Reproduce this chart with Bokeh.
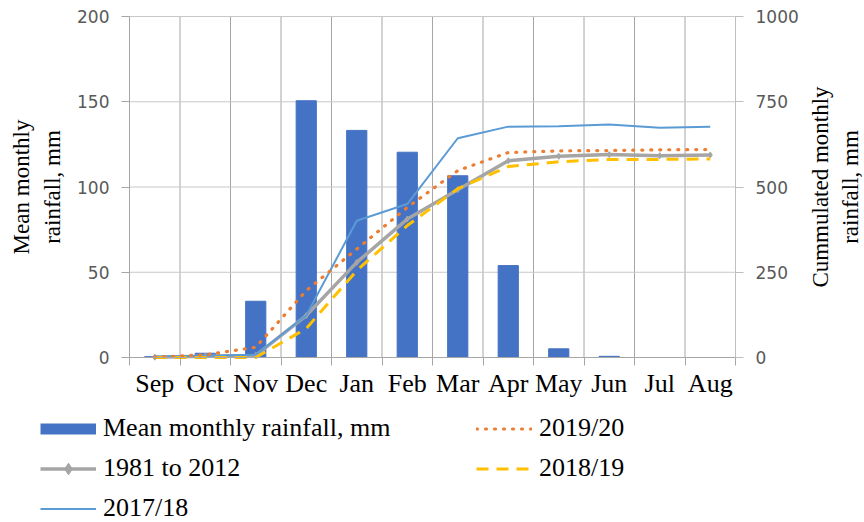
from math import pi
from bokeh.plotting import figure
from bokeh.models import (Range1d, LinearAxis, FixedTicker, Legend, LegendItem,
                          Label)
from bokeh.embed import file_html
from bokeh.resources import INLINE

months = ["Sep", "Oct", "Nov", "Dec", "Jan", "Feb", "Mar", "Apr", "May", "Jun", "Jul", "Aug"]
mean_rain = [0.5, 2.5, 33, 150.6, 133.2, 120.4, 106.6, 53.9, 5.1, 0.7, 0, 0]
cum_1981_2012 = [1, 4, 6, 123, 279, 406, 492, 577, 590, 595, 592, 594]
cum_2019_20 = [1, 8, 30, 196, 318, 440, 548, 601, 606, 607, 609, 610]
cum_2018_19 = [0, 0, 0, 85, 255, 387, 495, 560, 574, 581, 581, 582]
cum_2017_18 = [3, 5, 8, 123, 401, 450, 643, 677, 678, 683, 674, 677]
left_ticks = [0, 50, 100, 150, 200]
right_ticks = [0, 250, 500, 750, 1000]

# page geometry (pixels) of the plotting area inside the 864x522 canvas
W, H = 864, 522
AREA_L, AREA_R, AREA_T, AREA_B = 129, 735, 16, 357

n = len(months)
x_idx = list(range(n))
bounds = [i - 0.5 for i in range(n + 1)]
ymax_l, ymax_r = left_ticks[-1], right_ticks[-1]

ux = (AREA_R - AREA_L) / n
uy = (AREA_B - AREA_T) / ymax_l
x_start = -0.5 - AREA_L / ux
x_end = n - 0.5 + (W - AREA_R) / ux
y_start = -(H - AREA_B) / uy
y_end = ymax_l + AREA_T / uy
k = ymax_r / ymax_l

p = figure(width=W, height=H, output_backend="svg", toolbar_location=None,
           x_range=Range1d(x_start, x_end), y_range=Range1d(y_start, y_end),
           x_axis_type=None, y_axis_type=None, min_border=0)
p.extra_y_ranges = {"cum": Range1d(y_start * k, y_end * k)}
p.outline_line_color = None
p.background_fill_color = "white"
p.border_fill_color = "white"

SERIF = "Liberation Serif"
SANS = "DejaVu Sans"

# grid lines
p.segment(x0=bounds, x1=bounds, y0=[0] * len(bounds), y1=[ymax_l] * len(bounds),
          line_color="#a6a6a6", line_width=1, level="underlay")
p.segment(x0=[-0.5] * len(left_ticks), x1=[n - 0.5] * len(left_ticks),
          y0=left_ticks, y1=left_ticks, line_color="#c8c8c8", line_width=1,
          level="underlay")

# x axis
xa = LinearAxis(fixed_location=0, bounds=(-0.5, n - 0.5),
                ticker=FixedTicker(ticks=x_idx, minor_ticks=bounds))
xa.major_label_overrides = {i: m for i, m in enumerate(months)}
xa.major_tick_in = 0
xa.major_tick_out = 0
xa.minor_tick_in = 0
xa.minor_tick_out = 8
xa.minor_tick_line_color = "#a6a6a6"
xa.axis_line_color = "#a6a6a6"
xa.major_label_text_font = SERIF
xa.major_label_text_font_size = "26px"
xa.major_label_text_color = "black"
xa.major_label_standoff = 3
p.add_layout(xa, "below")

# left axis
ya = LinearAxis(fixed_location=-0.5, bounds=(0, ymax_l),
                ticker=FixedTicker(ticks=left_ticks))
ya.major_tick_in = 0
ya.major_tick_out = 8
ya.major_tick_line_color = "#a6a6a6"
ya.axis_line_color = "#a6a6a6"
ya.minor_tick_line_color = None
ya.major_label_text_font = SANS
ya.major_label_text_font_size = "17px"
ya.major_label_text_color = "#595959"
ya.major_label_standoff = 12
ya.axis_label = "Mean monthly\nrainfall, mm"
ya.axis_label_text_font = SERIF
ya.axis_label_text_font_size = "23px"
ya.axis_label_text_font_style = "normal"
ya.axis_label_text_color = "black"
ya.axis_label_text_line_height = 1.25
ya.axis_label_standoff = 9
p.add_layout(ya, "left")

# right axis
ra = LinearAxis(y_range_name="cum", fixed_location=n - 0.5, bounds=(0, ymax_r),
                ticker=FixedTicker(ticks=right_ticks))
ra.major_tick_in = 0
ra.major_tick_out = 8
ra.major_tick_line_color = "#bfbfbf"
ra.axis_line_color = "#bfbfbf"
ra.minor_tick_line_color = None
ra.major_label_text_font = SANS
ra.major_label_text_font_size = "17px"
ra.major_label_text_color = "#595959"
ra.major_label_standoff = 12
p.add_layout(ra, "right")

right_title = Label(x=n - 0.5 + 100 / ux, y=ymax_l / 2,
                    text="Cummulated monthly\nrainfall, mm", angle=pi / 2,
                    text_align="center", text_baseline="middle",
                    text_font=SERIF, text_font_size="23px", text_color="black",
                    text_line_height=1.22)
p.add_layout(right_title)

# bars
bars = p.vbar(x=x_idx, top=mean_rain, width=0.4, fill_color="#4472C4",
              line_color="#4472C4")
# hidden twin of the bars, used only for a flat legend swatch
bar_swatch = p.line(x_idx, mean_rain, line_width=11, line_color="#4472C4",
                    visible=False)

# cumulative lines
l_1981 = p.line(x_idx, cum_1981_2012, y_range_name="cum", line_color="#A5A5A5",
                line_width=3.5)
m_1981 = p.scatter(x_idx, cum_1981_2012, y_range_name="cum", marker="diamond",
                   size=6, color="#A5A5A5")
l_1718 = p.line(x_idx, cum_2017_18, y_range_name="cum", line_color="#5B9BD5",
                line_width=2)
l_1819 = p.line(x_idx, cum_2018_19, y_range_name="cum", line_color="#FFC000",
                line_width=3, line_dash="12 8")
l_1920 = p.line(x_idx, cum_2019_20, y_range_name="cum", line_color="#ED7D31",
                line_width=3.2, line_dash="1 8", line_cap="round")

legend = Legend(items=[
    LegendItem(label="Mean monthly rainfall, mm", renderers=[bar_swatch]),
    LegendItem(label="2019/20", renderers=[l_1920]),
    LegendItem(label="1981 to 2012", renderers=[l_1981, m_1981]),
    LegendItem(label="2018/19", renderers=[l_1819]),
    LegendItem(label="2017/18", renderers=[l_1718]),
], location=(40, -1), orientation="horizontal", ncols=2)
legend.border_line_color = None
legend.background_fill_alpha = 0
legend.padding = 0
legend.margin = 0
legend.spacing = 10
legend.glyph_width = 56
legend.glyph_height = 29
legend.label_height = 29
legend.label_standoff = 7
legend.label_width = 363
legend.label_text_font = SERIF
legend.label_text_font_size = "26px"
legend.label_text_color = "black"
p.add_layout(legend)

open("out.html", "w").write(file_html(p, INLINE))
